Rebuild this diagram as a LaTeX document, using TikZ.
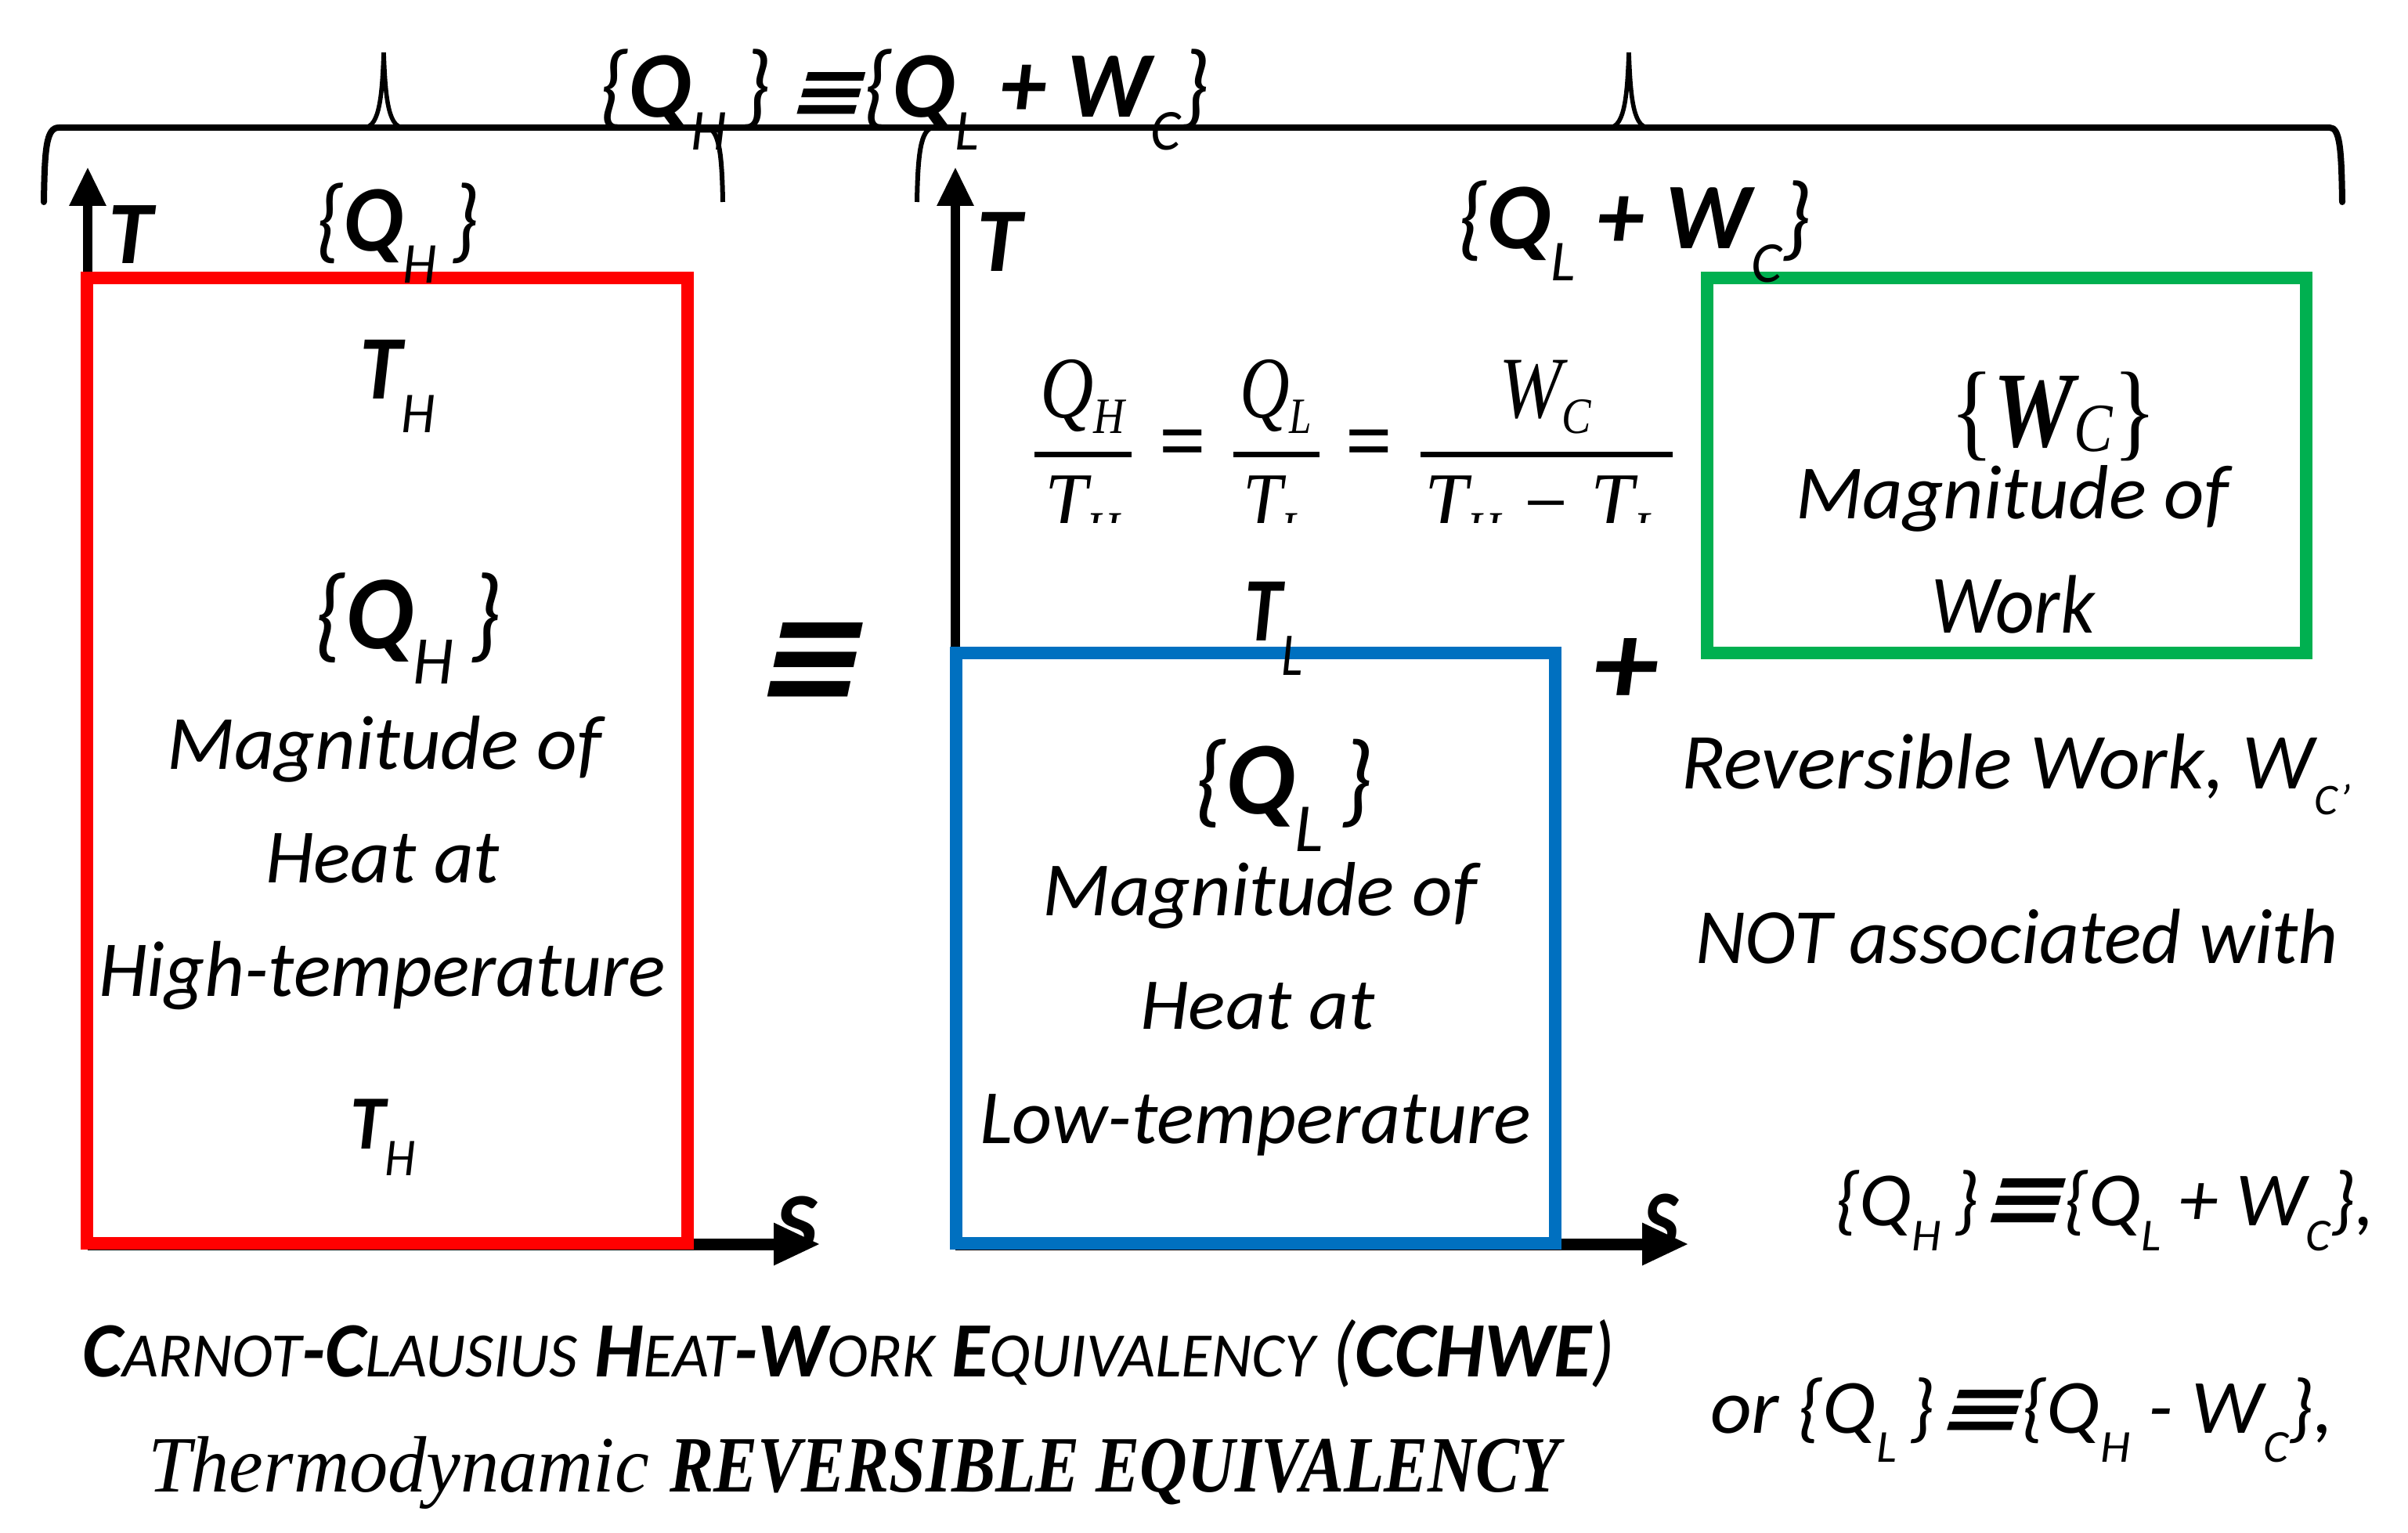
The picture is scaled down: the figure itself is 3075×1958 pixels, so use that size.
\documentclass[tikz,border=0pt]{standalone}
\usepackage{fontspec}
\usepackage{graphicx}
\setmainfont{Carlito}
\newfontfamily\tms{Liberation Serif}
\newfontfamily\dvsl{DejaVu Sans}[FakeSlant=0.22]
\usetikzlibrary{arrows.meta}
\newlength\px \setlength\px{0.25pt}
\newcommand\fz[1]{\fontsize{#1pt}{#1pt}\selectfont}
\newcommand\sbx[3]{\raisebox{-#1\px}{\fz{#2}\mdseries\itshape #3}}
\newcommand\fitw[2]{\resizebox{#1\px}{\height}{#2}}
\newcommand\eqv[2]{\resizebox{#1\px}{#2\px}{\dvsl\bfseries ≡}}
\newcommand\lb{{\mdseries\{}}
\newcommand\rb{{\mdseries\}}}
\newcommand\sm[1]{{\fz{20.2}#1}}
\definecolor{cred}{HTML}{FF0000}
\definecolor{cblue}{HTML}{0070C0}
\definecolor{cgreen}{HTML}{00B050}
\begin{document}
\begin{tikzpicture}[x=0.25pt,y=-0.25pt,
  txt/.style={inner sep=0pt,outer sep=0pt,anchor=base west},
  brace/.style={line width=2pt,line cap=round},
  hook/.style={line width=1.5pt},
  spike/.style={line width=1.4pt},
  box/.style={line width=4pt},
  taxis/.style={line width=3pt,-{Triangle[length=12.5pt,width=11pt]}},
  saxis/.style={line width=3.75pt,-{Triangle[length=15pt,width=12.5pt]}},
  fbar/.style={line width=1.75pt}]
\fill[white] (0,0) rectangle (3075,1958);
\useasboundingbox (0,0) rectangle (3075,1958);

% big brace
\draw[brace] (56,258) .. controls (57,190) and (59,163) .. (75,163) -- (2975,163) .. controls (2988,163) and (2990,190) .. (2991,258);
\draw[hook] (903,163) .. controls (918,166) and (922,195) .. (923,258);
\draw[hook] (1171,258) .. controls (1172,195) and (1176,166) .. (1191,163);
\draw[spike] (466,163) .. controls (485,161) and (488,120) .. (490,67) .. controls (492,120) and (495,161) .. (514,163);
\draw[spike] (2056,163) .. controls (2075,161) and (2078,120) .. (2080,67) .. controls (2082,120) and (2085,161) .. (2104,163);

% axes
\coordinate (lo) at (112,1589);
\coordinate (ltip) at (112,213);
\coordinate (lstip) at (1048,1589);
\coordinate (ro) at (1220,1589);
\coordinate (rtip) at (1220,213);
\coordinate (rstip) at (2157,1589);
\draw[taxis] (lo) -- (ltip);
\draw[saxis] (lo) -- (lstip);
\draw[taxis] (ro) -- (rtip);
\draw[saxis] (ro) -- (rstip);

% boxes
\draw[box,cred] (111,355) rectangle (878,1588);
\draw[box,cblue] (1221,834) rectangle (1986,1588);
\draw[box,cgreen] (2180,355) rectangle (2945,834);

% top labels
\node[txt] (topeq) at (765,150) {\fitw{780}{\fz{30}\bfseries\itshape\lb Q\sbx{42}{18.5}{H}\,\rb\,\eqv{100}{57}\lb Q\sbx{42}{18.5}{L} + W\sbx{42}{18.5}{C}\rb}};
\node[txt] (qhtop) at (403,321) {\fitw{209}{\fz{30}\bfseries\itshape\lb Q\sbx{40}{18.5}{H}\,\rb}};
\node[txt] (qlwc) at (1861,318) {\fitw{452}{\fz{30}\bfseries\itshape\lb Q\sbx{40}{18.5}{L} + W\sbx{42}{18.5}{C}\rb}};
\node[txt] (tleft) at (138,337) {\fz{28.5}\bfseries\itshape T};
\node[txt] (tright) at (1247,347) {\fz{29}\bfseries\itshape T};

% red box texts
\node[txt] (th1) at (459,510) {\fitw{97}{\fz{29}\bfseries\itshape T\sbx{42}{18.5}{H}}};
\node[txt] (qh) at (401,828) {\fitw{240}{\fz{33.5}\bfseries\itshape\lb Q\sbx{45}{21.8}{H}\,\rb}};
\node[txt] (m1) at (213,982) {\fitw{555}{\fz{24.5}\itshape Magnitude of}};
\node[txt] (h1) at (339,1127) {\fitw{299}{\fz{24.5}\itshape Heat at}};
\node[txt] (ht) at (126,1272) {\fitw{724}{\fz{25.3}\itshape High-temperature}};
\node[txt] (th2) at (447,1467) {\fitw{84}{\fz{24.5}\bfseries\itshape T\sbx{34}{17}{H}}};
\node[txt] (s1) at (990,1600) {\fitw{53}{\fz{27.7}\bfseries\itshape S}};
\node[txt] (s2) at (2098,1597) {\fitw{45}{\fz{27.7}\bfseries\itshape S}};

% fraction
\begin{scope}
\clip (1290,430) rectangle (2160,667);
\node[txt] (n1) at (1328,533) {\fitw{108}{\tms\fz{28}\itshape Q\sbx{20}{16.25}{H}}};
\node[txt] (d1) at (1334,678) {\fitw{96}{\tms\fz{27}\itshape T\sbx{20}{16.25}{H}}};
\node[txt] (n2) at (1583,533) {\fitw{92}{\tms\fz{28}\itshape Q\sbx{20}{16.25}{L}}};
\node[txt] (d2) at (1587,678) {\fitw{80}{\tms\fz{27}\itshape T\sbx{20}{16.25}{L}}};
\node[txt] (n3) at (1914,533) {\fitw{118}{\tms\fz{28}\itshape W\sbx{20}{16.25}{C}}};
\node[txt] (d3) at (1819,678) {\fitw{300}{\tms\fz{27}\itshape T\sbx{20}{16.25}{H} − T\sbx{20}{16.25}{L}}};
\end{scope}
\draw[fbar] (1321,580) -- (1445,580);
\draw[fbar] (1575,580) -- (1685,580);
\draw[fbar] (1814,580) -- (2136,580);
\node[inner sep=0pt] (e1) at (1510,574) {\fitw{60}{\tms\fz{27}\bfseries =}};
\node[inner sep=0pt] (e2) at (1748,574) {\fitw{60}{\tms\fz{27}\bfseries =}};

\node[txt] (tlow) at (1589,818) {\fitw{75}{\fz{29}\bfseries\itshape T\sbx{44}{19.4}{L}}};

% blue box texts
\node[txt] (ql) at (1525,1039) {\fitw{228}{\fz{33}\bfseries\itshape\lb Q\sbx{48}{22}{L}\,\rb}};
\node[txt] (m2) at (1331,1169) {\fitw{555}{\fz{24.5}\itshape Magnitude of}};
\node[txt] (h2) at (1456,1314) {\fitw{300}{\fz{23.3}\itshape Heat at}};
\node[txt] (lt) at (1251,1460) {\fitw{704}{\fz{24.5}\itshape Low-temperature}};

% green box texts
\node[txt] (wc) at (2490,570) {\fitw{264}{\tms\fz{34.4}\{{\bfseries\itshape W}\sbx{6}{22}{C}\}}};
\node[txt] (m3) at (2293,662) {\fitw{553}{\fz{24.5}\itshape Magnitude of}};
\node[txt] (wk) at (2466,808) {\fitw{209}{\fz{26.5}\itshape Work}};

% symbols
\node[inner sep=0pt] (plus) at (2076,858) {\resizebox{83\px}{85\px}{\fz{40}\bfseries\itshape +}};
\node[inner sep=0pt] (equiv) at (1030,846) {\eqv{137}{101}};

% right texts
\node[txt] (rw) at (2147,1007) {\fitw{855}{\fz{25.3}\itshape Reversible Work, W\sbx{33}{14}{C’}}};
\node[txt] (nat) at (2165,1230) {\fitw{821}{\fz{25}\itshape NOT associated with}};
\node[txt] (eqa) at (2343,1565) {\fitw{690}{\fz{24.5}\itshape\{Q\sbx{32}{14.6}{H}\,\}\eqv{105}{60}\{Q\sbx{32}{14.6}{L} + W\sbx{32}{14.6}{C}\},}};
\node[txt] (eqb) at (2184,1830) {\fitw{796}{\fz{24.5}\itshape or \{Q\sbx{37}{14.6}{L}\,\}\eqv{105}{55}\{Q\sbx{37}{14.6}{H} - W\sbx{37}{14.6}{C}\},}};

% bottom titles
\node[txt] (cc) at (105,1758) {\fitw{1957}{\fz{25}\itshape\textbf{C}\sm{ARNOT}\textbf{-C}\sm{LAUSIUS} \textbf{H}\sm{EAT}\textbf{-W}\sm{ORK} \textbf{E}\sm{QUIVALENCY} (\textbf{CCHWE})}};
\node[txt] (td) at (189,1905) {\tms\fz{25.5}\itshape\fitw{640}{Thermodynamic}\hspace{26\px}\fitw{1137}{\bfseries REVERSIBLE EQUIVALENCY}};
\end{tikzpicture}
\end{document}
